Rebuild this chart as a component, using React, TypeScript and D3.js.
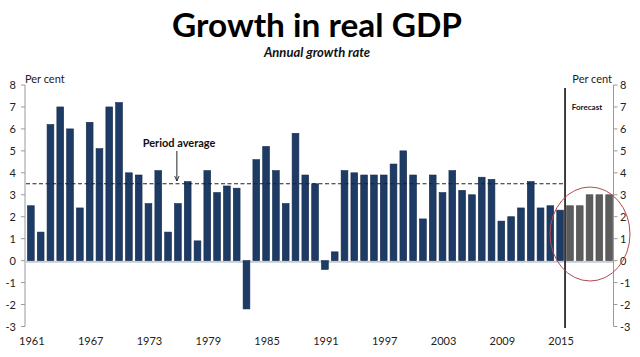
import React from "react";
import * as d3 from "d3";

const actualYears = [
  1961, 1962, 1963, 1964, 1965, 1966, 1967, 1968, 1969, 1970,
  1971, 1972, 1973, 1974, 1975, 1976, 1977, 1978, 1979, 1980,
  1981, 1982, 1983, 1984, 1985, 1986, 1987, 1988, 1989, 1990,
  1991, 1992, 1993, 1994, 1995, 1996, 1997, 1998, 1999, 2000,
  2001, 2002, 2003, 2004, 2005, 2006, 2007, 2008, 2009, 2010,
  2011, 2012, 2013, 2014, 2015,
];
const actualGrowth = [
  2.5, 1.3, 6.2, 7.0, 6.0, 2.4, 6.3, 5.1, 7.0, 7.2,
  4.0, 3.9, 2.6, 4.1, 1.3, 2.6, 3.6, 0.9, 4.1, 3.1,
  3.4, 3.3, -2.2, 4.6, 5.2, 4.1, 2.6, 5.8, 3.9, 3.5,
  -0.4, 0.4, 4.1, 4.0, 3.9, 3.9, 3.9, 4.4, 5.0, 3.9,
  1.9, 3.9, 3.1, 4.1, 3.2, 3.0, 3.8, 3.7, 1.8, 2.0,
  2.4, 3.6, 2.4, 2.5, 2.3,
];
const forecastYears = [2016, 2017, 2018, 2019, 2020];
const forecastGrowth = [2.5, 2.5, 3.0, 3.0, 3.0];
const periodAverage = 3.5;
const xTickYears = [1961, 1967, 1973, 1979, 1985, 1991, 1997, 2003, 2009, 2015];
const yTicks = [-3, -2, -1, 0, 1, 2, 3, 4, 5, 6, 7, 8];

const FONT = "Lato, 'Open Sans', sans-serif";

export default function App() {
  const allYears = [...actualYears, ...forecastYears];
  const x = d3.scaleBand<number>().domain(allYears).range([26, 614]).paddingInner(0.31).paddingOuter(0.15);
  const y = d3.scaleLinear().domain([-3, 8]).range([326.5, 85]);
  const bw = x.bandwidth();
  const lastActual = actualYears[actualYears.length - 1];
  const firstForecast = forecastYears[0];
  const divX = ((x(lastActual) as number) + bw + (x(firstForecast) as number)) / 2;
  const avgY = y(periodAverage);
  const leftAxisX = 25;
  const rightAxisX = 613.5;

  const bar = (yr: number, v: number, fill: string, stroke: string) => (
    <rect
      key={yr}
      x={x(yr) as number}
      y={Math.min(y(v), y(0))}
      width={bw}
      height={Math.abs(y(v) - y(0))}
      fill={fill}
      stroke={stroke}
      strokeWidth={0.6}
    />
  );

  const arrowX = (x(1976) as number) + bw / 2 - 1;

  return (
    <svg
      width={640}
      height={357}
      style={{ position: "absolute", left: 0, top: 0, background: "#fff" }}
      fontFamily={FONT}
    >
      <defs>
        <marker id="ah" viewBox="0 0 10 10" refX="9" refY="5" markerWidth="6" markerHeight="6" orient="auto">
          <path d="M0,1 L9,5 L0,9" fill="none" stroke="#222" strokeWidth="1.5" />
        </marker>
      </defs>
      <text x={317} y={37} textAnchor="middle" fontSize={33} fontWeight={700} fill="#000" textLength={290} lengthAdjust="spacingAndGlyphs">
        Growth in real GDP
      </text>
      <text x={317} y={57} textAnchor="middle" fontSize={13} fontWeight={700} fontStyle="italic" fill="#111">
        Annual growth rate
      </text>

      {/* left axis */}
      <line x1={leftAxisX} x2={leftAxisX} y1={y(-3)} y2={y(8)} stroke="#9a9a9a" strokeWidth={1} />
      {yTicks.map((t) => (
        <g key={"l" + t}>
          <line x1={leftAxisX - 4} x2={leftAxisX} y1={y(t)} y2={y(t)} stroke="#9a9a9a" />
          <text x={16} y={y(t) + 4} textAnchor="end" fontSize={11} fill="#222">
            {t}
          </text>
        </g>
      ))}
      <text x={25} y={83} fontSize={11} fill="#222">Per cent</text>

      {/* right axis */}
      <line x1={rightAxisX} x2={rightAxisX} y1={y(-3)} y2={y(8)} stroke="#9a9a9a" strokeWidth={1} />
      {yTicks.map((t) => (
        <g key={"r" + t}>
          <line x1={rightAxisX} x2={rightAxisX + 4} y1={y(t)} y2={y(t)} stroke="#9a9a9a" />
          <text x={620} y={y(t) + 4} textAnchor="start" fontSize={11} fill="#222">
            {t}
          </text>
        </g>
      ))}
      <text x={612} y={83} textAnchor="end" fontSize={11} fill="#222">Per cent</text>

      {/* zero shadow line */}
      <line x1={26} x2={613} y1={y(0) + 1} y2={y(0) + 1} stroke="#c3cbd6" strokeWidth={2} />

      {/* bars */}
      {actualYears.map((yr, i) => bar(yr, actualGrowth[i], "#1d3b64", "#152c4c"))}
      {forecastYears.map((yr, i) => bar(yr, forecastGrowth[i], "#5c5c5c", "#4a4a4a"))}

      {/* period average */}
      <line
        x1={26}
        x2={(x(lastActual) as number) + bw}
        y1={avgY}
        y2={avgY}
        stroke="#222"
        strokeWidth={1.1}
        strokeDasharray="4,2.5"
      />
      <text x={179} y={147} textAnchor="middle" fontSize={11} fontWeight={700} fill="#111">
        Period average
      </text>
      <line x1={arrowX} x2={arrowX} y1={151} y2={181} stroke="#222" strokeWidth={1} markerEnd="url(#ah)" />

      {/* forecast divider */}
      <line x1={divX} x2={divX} y1={88} y2={328} stroke="#000" strokeWidth={1.5} />
      <text x={587} y={110} textAnchor="middle" fontSize={8} fontWeight={700} fill="#111">
        Forecast
      </text>

      {/* highlight ellipse */}
      <ellipse cx={590} cy={234} rx={40} ry={47} fill="none" stroke="#b04a55" strokeWidth={1} />

      {/* x labels */}
      {xTickYears.map((yr) => (
        <text key={yr} x={(x(yr) as number) + bw / 2 + 1} y={345} textAnchor="middle" fontSize={11} fill="#222">
          {yr}
        </text>
      ))}
    </svg>
  );
}
